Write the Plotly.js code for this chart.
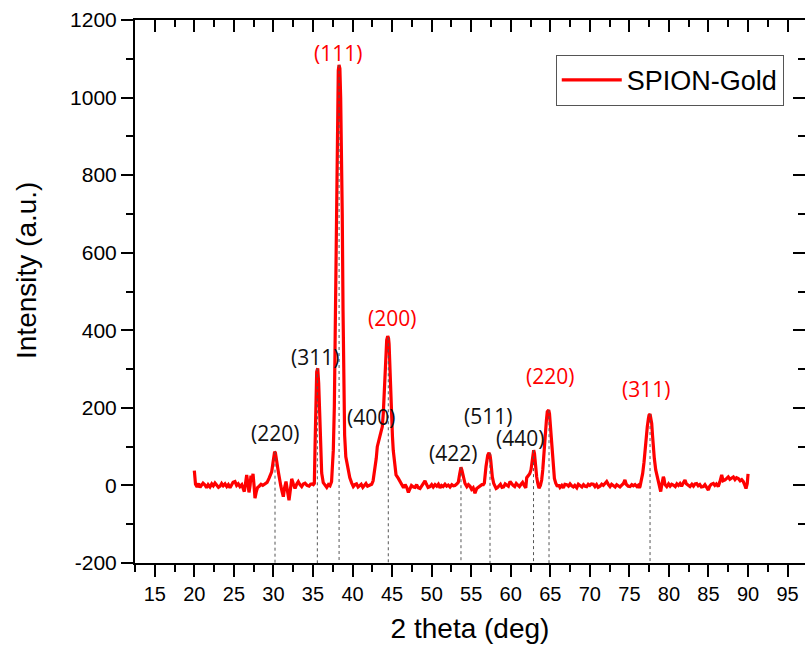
<!DOCTYPE html>
<html>
<head>
<meta charset="utf-8">
<script src="https://cdn.plot.ly/plotly-3.0.1.min.js"></script>
<style>html,body{margin:0;padding:0;background:#fff;}#chart{width:805px;height:648px;}</style>
</head>
<body>
<div id="chart"></div>
<script>
const seriesName = "SPION-Gold";
const twoTheta = [
20.00,20.05,20.15,20.35,20.55,20.72,20.90,21.10,21.35,21.55,21.75,21.98,22.20,22.40,22.61,22.80,23.05,23.25,23.45,23.65,
23.88,24.10,24.30,24.51,24.70,24.90,25.14,25.35,25.55,25.77,26.00,26.15,26.32,26.47,26.62,26.77,26.91,27.05,27.16,27.30,
27.42,27.55,27.67,27.85,28.01,28.20,28.43,28.65,28.93,29.20,29.44,29.62,29.78,29.92,30.04,30.15,30.25,30.41,30.52,30.62,
30.78,30.92,31.08,31.25,31.42,31.59,31.78,31.97,32.15,32.31,32.50,32.73,32.95,33.14,33.35,33.57,33.78,33.99,34.25,34.50,
34.70,34.90,35.05,35.17,35.26,35.38,35.47,35.60,35.72,35.85,35.98,36.10,36.30,36.50,36.74,36.95,37.15,37.35,37.57,37.70,
37.82,37.92,38.00,38.10,38.20,38.29,38.40,38.50,38.60,38.70,38.80,38.90,39.00,39.15,39.30,39.45,39.65,39.90,40.10,40.30,
40.50,40.70,40.90,41.10,41.30,41.50,41.70,41.90,42.10,42.30,42.42,42.60,42.84,43.00,43.13,43.30,43.47,43.62,43.76,43.89,
43.98,44.10,44.19,44.32,44.45,44.55,44.62,44.74,44.85,44.95,45.05,45.15,45.30,45.50,45.79,46.00,46.22,46.45,46.65,46.85,
47.06,47.25,47.45,47.70,47.90,48.10,48.30,48.53,48.75,48.95,49.16,49.35,49.55,49.79,50.00,50.20,50.43,50.65,50.85,51.06,
51.25,51.45,51.69,51.90,52.10,52.32,52.55,52.75,52.95,53.20,53.37,53.55,53.71,53.82,53.93,54.08,54.22,54.45,54.65,54.85,
55.05,55.25,55.48,55.70,55.90,56.12,56.35,56.53,56.66,56.87,57.09,57.25,57.38,57.47,57.57,57.67,57.85,58.01,58.15,58.30,
58.50,58.70,58.90,59.10,59.30,59.50,59.70,59.91,60.10,60.30,60.50,60.70,60.90,61.10,61.30,61.50,61.70,61.90,62.02,62.22,
62.40,62.56,62.70,62.78,62.90,63.00,63.07,63.18,63.28,63.42,63.57,63.75,63.91,64.05,64.20,64.32,64.42,64.52,64.62,64.80,
64.90,64.96,65.08,65.18,65.28,65.38,65.52,65.69,65.90,66.05,66.23,66.45,66.65,66.85,67.08,67.30,67.50,67.70,67.91,68.10,
68.35,68.55,68.76,69.00,69.20,69.40,69.60,69.80,70.00,70.20,70.44,70.65,70.85,71.05,71.28,71.50,71.70,71.90,72.13,72.35,
72.55,72.75,72.97,73.20,73.40,73.60,73.81,74.00,74.25,74.44,74.60,74.85,75.08,75.30,75.50,75.71,75.95,76.10,76.25,76.34,
76.50,76.68,76.85,76.97,77.10,77.26,77.40,77.48,77.61,77.72,77.82,77.92,78.02,78.15,78.33,78.50,78.66,78.80,78.96,79.12,
79.29,79.37,79.50,79.72,79.95,80.15,80.35,80.55,80.80,81.00,81.20,81.40,81.60,81.80,82.03,82.20,82.40,82.66,82.90,83.10,
83.30,83.50,83.70,83.90,84.10,84.35,84.55,84.75,84.98,85.15,85.35,85.61,85.80,86.00,86.24,86.45,86.67,86.85,87.09,87.30,
87.50,87.70,87.90,88.14,88.35,88.55,88.77,89.00,89.20,89.40,89.60,89.74,89.90,90.00
];
const intensity = [
38,10,3,-4,5,-5,2,6,1,-6,2,-4,4,-1,6,0,-5,-2,5,-1,
4,-3,2,-6,1,8,10,0,4,-3,2,-8,-16,5,27,5,-18,0,25,10,
30,0,-33,-15,-5,-2,3,0,5,8,18,25,35,55,72,87,84,68,48,35,
12,0,-15,-29,-5,10,-15,-38,-10,17,5,-8,4,10,2,-3,4,6,0,-2,
3,4,2,5,100,194,293,302,263,186,91,32,7,0,-5,2,-1,10,91,203,
392,615,800,980,1070,1084,1075,1000,890,700,450,250,130,74,55,40,20,6,-3,2,
4,-4,0,3,-5,1,5,-2,0,4,3,12,40,70,100,118,128,140,151,186,
220,290,323,375,385,380,365,280,220,170,125,90,60,27,18,9,0,-6,2,-5,
-18,-6,0,-4,-5,2,-6,-8,0,5,12,3,-5,-3,2,-4,2,-2,3,-6,
0,-3,3,-2,1,-4,2,-1,0,4,8,30,47,40,28,12,5,-3,2,-2,
-10,-6,-20,-8,-5,-3,2,2,6,48,78,84,78,65,42,22,5,-2,-8,-6,
0,3,-5,-4,4,2,-2,10,4,0,-3,5,1,-3,3,8,0,-6,20,25,
30,40,65,81,91,82,65,40,22,5,-7,0,14,40,74,110,143,170,190,194,
185,169,135,100,70,40,18,6,-3,2,-5,0,-6,3,2,-2,4,-1,-4,0,
-6,3,0,-4,2,-2,-3,3,0,4,3,-3,2,-5,-2,3,0,4,10,2,
-3,3,0,-4,2,-2,-4,0,5,14,3,-2,-3,2,-1,2,-3,0,-6,-3,
10,31,60,91,120,151,172,181,184,175,160,130,100,70,40,22,14,-5,-16,5,
22,18,2,-3,4,-2,3,1,-3,4,0,5,-2,6,14,4,0,-3,3,-2,
4,5,-1,2,-4,-3,2,-6,-12,-2,3,5,0,4,-3,10,27,12,14,18,
22,16,20,22,15,20,18,12,15,10,0,-8,5,30
];
// Indexed reflections (black: Fe3O4 spinel, red: gold)
const feLabels = ["(220)", "(311)", "(400)", "(422)", "(511)", "(440)"];
const feLabelX = [30.24, 35.26, 42.31, 52.74, 57.17, 61.17];
const feLabelY = [135, 332, 177, 83, 179, 123];
const auLabels = ["(111)", "(200)", "(220)", "(311)"];
const auLabelX = [38.16, 44.95, 64.90, 77.04];
const auLabelY = [1116, 431, 282, 248];
// Dotted drop lines: peak positions and peak tops
const dropX = [30.20, 35.55, 38.30, 44.52, 53.71, 57.38, 62.88, 64.84, 77.61];
const dropTop = [87, 302, 1084, 382, 47, 84, 91, 194, 184];
// Axis ticks
const xTicks = [15,20,25,30,35,40,45,50,55,60,65,70,75,80,85,90,95];
const yTicks = [-200,0,200,400,600,800,1000,1200];
const yTickText = ["-200","0","200","400","600","800","1000","1200"];

const xRange = [12.5, 97.2];
const yRange = [-200, 1200];

const dx = [], dy = [];
dropX.forEach((x, i) => { dx.push(x, x, null); dy.push(dropTop[i], yRange[0], null); });

const traces = [
  {x: twoTheta, y: intensity, type: 'scatter', mode: 'lines', name: seriesName,
   line: {color: '#ff0000', width: 3.2}, hoverinfo: 'x+y'},
  {x: dx, y: dy, type: 'scatter', mode: 'lines', showlegend: false,
   line: {color: '#555555', width: 1, dash: 'dot'}, hoverinfo: 'skip'},
  {x: [null], y: [null], xaxis: 'x2', yaxis: 'y2', type: 'scatter', mode: 'lines',
   showlegend: false, hoverinfo: 'skip'}
];

const annFont = 'Open Sans, Noto Sans, sans-serif';
const annotations = [];
feLabels.forEach((t, i) => annotations.push({x: feLabelX[i], y: feLabelY[i], text: t, showarrow: false,
  xanchor: 'center', yanchor: 'middle', font: {family: annFont, size: 21, color: '#111111'}}));
auLabels.forEach((t, i) => annotations.push({x: auLabelX[i], y: auLabelY[i], text: t, showarrow: false,
  xanchor: 'center', yanchor: 'middle', font: {family: annFont, size: 21, color: '#ff0000'}}));
// y-axis title placed like the reference (slightly above centre)
annotations.push({xref: 'paper', yref: 'paper', x: -0.161, y: 0.538, text: 'Intensity (a.u.)',
  textangle: -90, showarrow: false, xanchor: 'center', yanchor: 'middle',
  font: {family: 'Liberation Sans, Arial, sans-serif', size: 28, color: '#000'}});

const tickFont = {family: 'Liberation Sans, Arial, sans-serif', size: 20, color: '#000'};
const layout = {
  width: 805, height: 648,
  margin: {l: 135, r: 0, t: 20, b: 85},
  paper_bgcolor: '#fff', plot_bgcolor: '#fff',
  showlegend: true,
  legend: {x: 0.628, y: 0.936, xanchor: 'left', yanchor: 'top', bgcolor: '#fff',
    bordercolor: '#555', borderwidth: 1, itemwidth: 60, tracegroupgap: 0,
    font: {family: 'Liberation Sans, Arial, sans-serif', size: 27, color: '#000'}},
  xaxis: {range: xRange, tickmode: 'array', tickvals: xTicks, ticks: 'outside', ticklen: 12, tickwidth: 2,
    tickcolor: '#000', showline: true, linewidth: 2, linecolor: '#000', showgrid: false, zeroline: false,
    minor: {tickmode: 'linear', tick0: 12.5, dtick: 5, ticks: 'outside', ticklen: 7, tickwidth: 2, tickcolor: '#000'},
    tickfont: tickFont,
    title: {text: '2 theta (deg)', font: {family: 'Liberation Sans, Arial, sans-serif', size: 28, color: '#000'}, standoff: 14}},
  yaxis: {range: yRange, tickmode: 'array', tickvals: yTicks, ticktext: yTickText, ticks: 'outside', ticklen: 12, tickwidth: 2,
    tickcolor: '#000', showline: true, linewidth: 2, linecolor: '#000', showgrid: false, zeroline: false,
    minor: {tickmode: 'linear', tick0: -100, dtick: 200, ticks: 'outside', ticklen: 7, tickwidth: 2, tickcolor: '#000'},
    tickfont: {family: 'Liberation Sans, Arial, sans-serif', size: 21, color: '#000'}},
  xaxis2: {overlaying: 'x', side: 'top', range: xRange, tickmode: 'array', tickvals: xTicks, ticks: 'inside',
    ticklen: 12, tickwidth: 2, tickcolor: '#000', showline: true, linewidth: 2, linecolor: '#000',
    showgrid: false, zeroline: false, showticklabels: false,
    minor: {tickmode: 'linear', tick0: 12.5, dtick: 5, ticks: 'inside', ticklen: 7, tickwidth: 2, tickcolor: '#000'}},
  yaxis2: {overlaying: 'y', side: 'right', range: yRange, tickmode: 'array', tickvals: yTicks, ticks: 'inside',
    ticklen: 12, tickwidth: 2, tickcolor: '#000', showline: true, linewidth: 2, linecolor: '#000',
    showgrid: false, zeroline: false, showticklabels: false,
    minor: {tickmode: 'linear', tick0: -100, dtick: 200, ticks: 'inside', ticklen: 7, tickwidth: 2, tickcolor: '#000'}},
  annotations: annotations
};

Plotly.newPlot('chart', traces, layout, {displayModeBar: false, staticPlot: true});
</script>
</body>
</html>
